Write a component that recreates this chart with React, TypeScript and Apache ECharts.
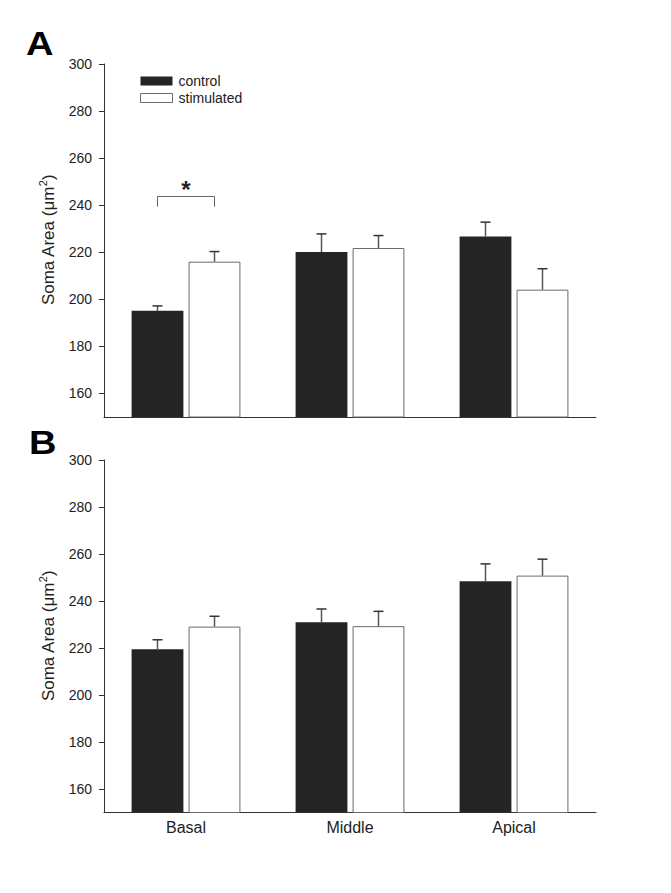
import React, { useEffect, useRef } from "react";
import * as echarts from "echarts";

const categories = ["Basal", "Middle", "Apical"];
const seriesNames = ["control", "stimulated"];

const controlA = [195.1, 220.1, 226.7];
const errControlA = [2.1, 7.7, 6.1];
const stimA = [216.0, 221.8, 204.1];
const errStimA = [4.3, 5.3, 8.9];

const controlB = [219.5, 231.0, 248.4];
const errControlB = [4.0, 5.6, 7.4];
const stimB = [229.1, 229.3, 250.8];
const errStimB = [4.4, 6.3, 7.0];

const yTicks = [160, 180, 200, 220, 240, 260, 280, 300];
const yMin = 150;
const yMax = 300;

// significance bracket (panel A, Basal): [category index, top value, leg bottom value]
const bracketA = [[0, 243.7, 239.4]];

const FONT = "Liberation Sans, Arial, Helvetica, sans-serif";
const BAR_W = 0.316; // fraction of band
const BAR_GAP = 0.1; // fraction of bar width
const OFF = (BAR_W * (1 + BAR_GAP)) / 2;

const CONTROL_COLOR = "#242424";
const STIM_BORDER = "#6a6a6a";

function errRender(sign: number) {
  return (params: any, api: any) => {
    const cat = api.value(0);
    const val = api.value(1);
    const err = api.value(2);
    const band = api.size([1, 0])[0];
    const c0 = api.coord([cat, val]);
    const c1 = api.coord([cat, val + err]);
    const x = c0[0] + sign * band * OFF;
    return {
      type: "group",
      children: [
        {
          type: "line",
          shape: { x1: x, y1: c0[1], x2: x, y2: c1[1] },
          style: { stroke: "#555", lineWidth: 1.5 },
        },
        {
          type: "line",
          shape: { x1: x - 5, y1: c1[1], x2: x + 5, y2: c1[1] },
          style: { stroke: "#333", lineWidth: 1.5 },
        },
      ],
    };
  };
}

function bracketRender(params: any, api: any) {
  const cat = api.value(0);
  const top = api.value(1);
  const leg = api.value(2);
  const band = api.size([1, 0])[0];
  const ct = api.coord([cat, top]);
  const cl = api.coord([cat, leg]);
  const xl = ct[0] - band * OFF;
  const xr = ct[0] + band * OFF;
  return {
    type: "group",
    children: [
      {
        type: "polyline",
        shape: {
          points: [
            [xl, cl[1]],
            [xl, ct[1]],
            [xr, ct[1]],
            [xr, cl[1]],
          ],
        },
        style: { stroke: "#666", lineWidth: 1, fill: null },
      },
      {
        type: "text",
        x: ct[0],
        y: ct[1] + 5,
        style: {
          text: "*",
          font: "bold 24px " + FONT,
          fill: "#222",
          align: "center",
          verticalAlign: "bottom",
        },
      },
    ],
  };
}

function errData(vals: number[], errs: number[]) {
  return vals.map((v, i) => [i, v, errs[i]]);
}

export default function App() {
  const ref = useRef<HTMLDivElement>(null);

  useEffect(() => {
    if (!ref.current) return;
    const chart = echarts.init(ref.current, null, { renderer: "svg" });

    const yAxisBase = (gridIndex: number) => ({
      type: "value",
      gridIndex,
      min: yMin,
      max: yMax,
      splitLine: { show: false },
      axisLine: { show: true, lineStyle: { color: "#333", width: 1 } },
      axisTick: {
        show: true,
        inside: false,
        length: 5,
        customValues: yTicks,
        lineStyle: { color: "#333", width: 1 },
      },
      axisLabel: {
        customValues: yTicks,
        margin: 12,
        fontSize: 14,
        fontFamily: FONT,
        color: "#222",
      },
    });

    const xAxisBase = (gridIndex: number, showLabel: boolean) => ({
      type: "category",
      gridIndex,
      data: categories,
      boundaryGap: true,
      axisTick: { show: false },
      axisLine: { show: true, lineStyle: { color: "#333", width: 1 } },
      axisLabel: {
        show: showLabel,
        margin: 7,
        fontSize: 16,
        fontFamily: FONT,
        color: "#222",
      },
    });

    const barSeries = (name: string, data: number[], idx: number, ctrl: boolean) => ({
      type: "bar",
      name,
      data,
      xAxisIndex: idx,
      yAxisIndex: idx,
      barWidth: BAR_W * 100 + "%",
      barGap: BAR_GAP * 100 + "%",
      itemStyle: ctrl
        ? { color: CONTROL_COLOR, borderWidth: 0 }
        : { color: "#ffffff", borderColor: STIM_BORDER, borderWidth: 1 },
      emphasis: { disabled: true },
      z: 2,
    });

    const errSeries = (vals: number[], errs: number[], idx: number, sign: number) => ({
      type: "custom",
      xAxisIndex: idx,
      yAxisIndex: idx,
      renderItem: errRender(sign),
      data: errData(vals, errs),
      encode: { x: 0, y: 1 },
      z: 3,
      silent: true,
    });

    const yName = (y: number) => ({
      type: "text",
      x: 48,
      y,
      rotation: Math.PI / 2,
      style: {
        text: "Soma Area (μm{sup|2})",
        font: "17px " + FONT,
        fill: "#222",
        align: "center",
        verticalAlign: "middle",
        lineHeight: 22,
        rich: {
          sup: {
            fontSize: 11,
            fontFamily: FONT,
            fill: "#222",
            lineHeight: 13,
            verticalAlign: "top",
          },
        },
      },
    });

    const letter = (t: string, x: number, y: number) => ({
      type: "text",
      x,
      y,
      scaleX: 1.12,
      style: {
        text: t,
        font: "bold 34px " + FONT,
        fill: "#000",
        align: "left",
        verticalAlign: "bottom",
      },
    });

    const option: any = {
      animation: false,
      backgroundColor: "#ffffff",
      textStyle: { fontFamily: FONT },
      grid: [
        { left: 104, top: 64, width: 492, height: 353, containLabel: false },
        { left: 104, top: 460, width: 492, height: 352.5, containLabel: false },
      ],
      legend: {
        orient: "vertical",
        left: 140,
        top: 74,
        padding: 0,
        itemWidth: 32,
        itemHeight: 9,
        itemGap: 3,
        icon: "rect",
        selectedMode: false,
        textStyle: { fontSize: 14, fontFamily: FONT, color: "#222", padding: [0, 0, 0, 1] },
        data: [
          { name: seriesNames[0], itemStyle: { color: CONTROL_COLOR, borderWidth: 0 } },
          {
            name: seriesNames[1],
            itemStyle: { color: "#ffffff", borderColor: STIM_BORDER, borderWidth: 1 },
          },
        ],
      },
      xAxis: [xAxisBase(0, false), xAxisBase(1, true)],
      yAxis: [yAxisBase(0), yAxisBase(1)],
      series: [
        barSeries(seriesNames[0], controlA, 0, true),
        barSeries(seriesNames[1], stimA, 0, false),
        barSeries(seriesNames[0], controlB, 1, true),
        barSeries(seriesNames[1], stimB, 1, false),
        errSeries(controlA, errControlA, 0, -1),
        errSeries(stimA, errStimA, 0, 1),
        errSeries(controlB, errControlB, 1, -1),
        errSeries(stimB, errStimB, 1, 1),
        {
          type: "custom",
          xAxisIndex: 0,
          yAxisIndex: 0,
          renderItem: bracketRender,
          data: bracketA,
          encode: { x: 0, y: 1 },
          z: 4,
          silent: true,
        },
      ],
      graphic: [letter("A", 26, 60), letter("B", 29, 459), yName(240), yName(636)],
    };

    chart.setOption(option);
    return () => chart.dispose();
  }, []);

  return (
    <div
      ref={ref}
      style={{ position: "absolute", left: 0, top: 0, width: 671, height: 893 }}
    />
  );
}
